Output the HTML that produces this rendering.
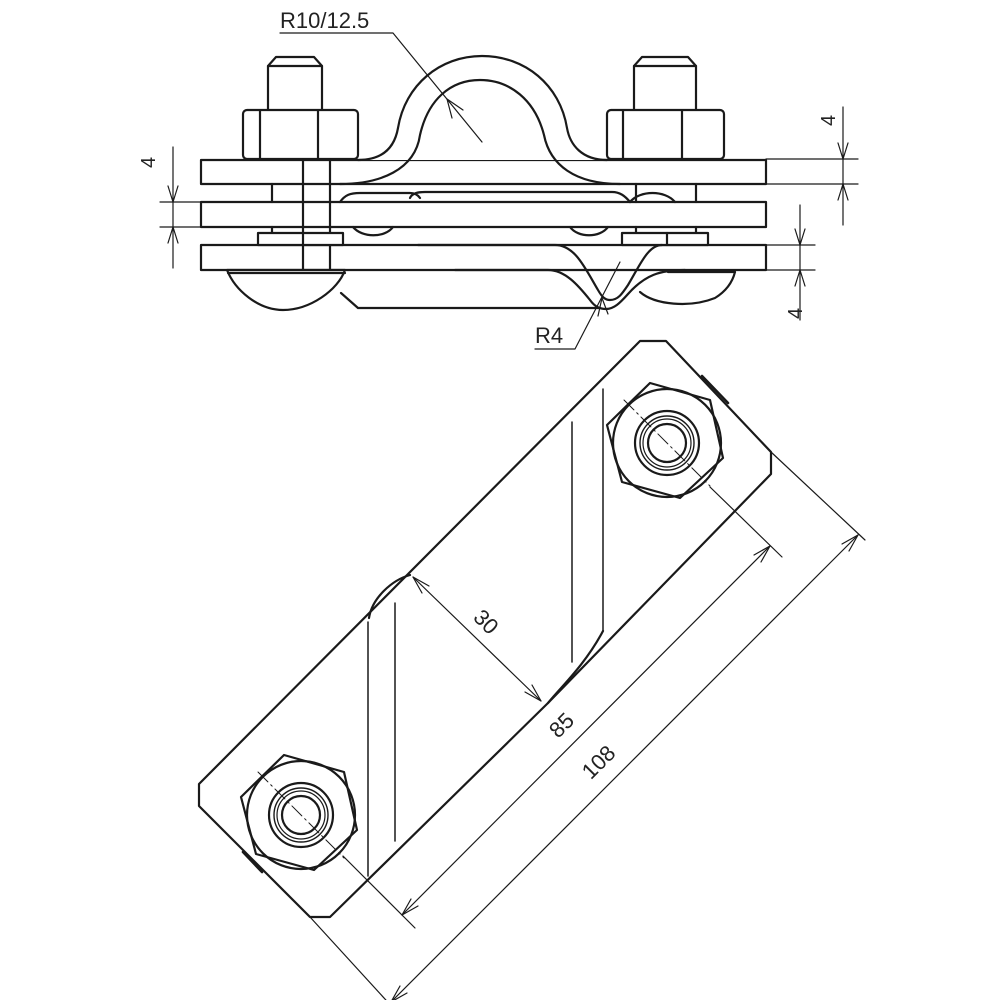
<!DOCTYPE html>
<html><head><meta charset="utf-8"><style>
html,body{margin:0;padding:0;background:#fff;}
svg{display:block;}
text{font-family:"Liberation Sans",sans-serif;fill:#222;}
</style></head><body>
<svg width="1000" height="1000" viewBox="0 0 1000 1000" xmlns="http://www.w3.org/2000/svg">
<g fill="none" stroke="#1a1a1a" stroke-width="2.2" stroke-linejoin="round" stroke-linecap="round">
<!-- ===== TOP VIEW ===== -->
<path d="M268,110 V66 L276,57 H314 L322,66 V110"/>
<line x1="268" y1="66" x2="322" y2="66"/>
<path d="M634,110 V66 L642,57 H688 L696,66 V110"/>
<line x1="634" y1="66" x2="696" y2="66"/>
<rect x="243" y="110" width="115" height="49" rx="4" fill="#fff"/>
<line x1="260" y1="111" x2="260" y2="158"/><line x1="318" y1="111" x2="318" y2="158"/>
<rect x="607" y="110" width="117" height="49" rx="4" fill="#fff"/>
<line x1="623" y1="111" x2="623" y2="158"/><line x1="682" y1="111" x2="682" y2="158"/>
<rect x="201" y="160" width="565" height="24" fill="#fff"/>
<rect x="201" y="202" width="565" height="25" fill="#fff"/>
<rect x="201" y="245" width="565" height="25" fill="#fff"/>
<path d="M358,160 C385,160 395,145 398,128 C405,85 440,56 482,56 C525,56 560,85 567,128 C570,145 582,160 607,160" fill="#fff"/>
<path d="M340,184 C380,184 415,170 420,135 C428,100 450,80 480,80 C510,80 535,100 544,135 C550,165 575,184 620,184"/>
<line x1="303" y1="160" x2="303" y2="270"/><line x1="330" y1="160" x2="330" y2="270"/>
<line x1="272" y1="184" x2="272" y2="202"/><line x1="272" y1="227" x2="272" y2="233"/>
<line x1="636" y1="184" x2="636" y2="202"/><line x1="696" y1="184" x2="696" y2="202"/>
<line x1="636" y1="227" x2="636" y2="233"/><line x1="696" y1="227" x2="696" y2="233"/>
<rect x="258" y="233" width="85" height="12" fill="#fff"/><line x1="303" y1="233" x2="303" y2="245"/>
<rect x="622" y="233" width="86" height="12" fill="#fff"/><line x1="667" y1="233" x2="667" y2="245"/>
<path d="M340,202 C345,195 350,193 360,193 H410 C415,193 418,195 420,198"/>
<path d="M410,198 C412,193 418,192 425,192 H612 C620,192 625,196 630,202"/>
<path d="M630,202 C640,190 665,190 675,202"/>
<path d="M353,227 C362,238 385,238 393,227"/>
<path d="M570,227 C578,238 600,238 608,227"/>
<path d="M418,245 H555 C575,245 585,268 598,290 C602,297 605,300 610,300 C618,300 622,294 628,285 C640,265 648,245 662,245"/>
<path d="M455,270 H548 C565,270 578,285 590,300 C595,307 600,309 606,309 C614,309 620,303 628,294 C645,275 660,270 685,270"/>
<path d="M341,293 L358,308 H600"/>
<path d="M227,270 H345 C338,290 310,310 283,310 C258,310 235,290 227,270 Z" fill="#fff"/>
<line x1="228" y1="273" x2="345" y2="273"/>
<path d="M640,292 C655,305 690,308 715,298 C728,290 733,280 735,272" fill="none"/>
<line x1="668" y1="272" x2="735" y2="272"/>
<g stroke-width="1.2">
<line x1="766" y1="159" x2="858" y2="159"/><line x1="766" y1="184" x2="858" y2="184"/>
<line x1="843" y1="107" x2="843" y2="225"/>
<path d="M838,143 L843,159 L848,143 M838,200 L843,184 L848,200"/>
<line x1="160" y1="202" x2="201" y2="202"/><line x1="160" y1="227" x2="201" y2="227"/>
<line x1="173" y1="147" x2="173" y2="268"/>
<path d="M168,186 L173,202 L178,186 M168,243 L173,227 L178,243"/>
<line x1="766" y1="245" x2="815" y2="245"/><line x1="766" y1="270" x2="815" y2="270"/>
<line x1="800" y1="205" x2="800" y2="320"/>
<path d="M795,229 L800,245 L805,229 M795,286 L800,270 L805,286"/>
<path d="M280,33 H393 L482,142"/>
<path d="M447,99 L452,118 M447,99 L463,110"/>
<path d="M535,349 H575 L620,262"/>
<path d="M602,298 L598,316 M602,298 L608,314"/>
</g>

<!-- ===== PLAN VIEW ===== -->
<path d="M640,341 H666 L771,452 V474 L548,703 L330,917 H310 L199,806 V784 Z" fill="#fff"/>
<path d="M369,618 C372,598 392,580 410,575"/>
<path d="M548,703 C560,688 585,665 603,631"/>
<line x1="702" y1="376" x2="728" y2="403" stroke-width="2.6"/>
<line x1="243" y1="852" x2="262" y2="872" stroke-width="2.6"/>
<g stroke-width="1.5">
<line x1="368" y1="622" x2="368" y2="876"/><line x1="395" y1="603" x2="395" y2="841"/>
<line x1="572" y1="422" x2="572" y2="662"/><line x1="603" y1="389" x2="603" y2="631"/>
</g>
<g id="nut">
<polygon points="650,383 710,400 723,458 680,498 622,482 607,425" fill="#fff"/>
<circle cx="667" cy="443" r="54"/>
<circle cx="667" cy="443" r="32"/>
<circle cx="667" cy="443" r="27" stroke-width="1.4"/>
<circle cx="667" cy="443" r="24" stroke-width="1.2"/>
<circle cx="667" cy="443" r="19"/>
<line x1="624" y1="400" x2="710" y2="486" stroke-width="1" stroke-dasharray="14,4,2,4"/>
</g>
<use href="#nut" transform="translate(-366,372)"/>
<g stroke-width="1.2">
<line x1="710" y1="487" x2="782" y2="557"/>
<line x1="343" y1="856" x2="415" y2="928"/>
<line x1="771" y1="452" x2="865" y2="540"/>
<line x1="310" y1="917" x2="395" y2="1010"/>
<line x1="402" y1="915" x2="770" y2="546"/>
<path d="M770,546 L754,555 M770,546 L761,562 M402,915 L411,899 M402,915 L418,906"/>
<line x1="391" y1="1002" x2="858" y2="535"/>
<path d="M858,535 L842,544 M858,535 L849,551 M391,1002 L400,986 M391,1002 L407,993"/>
<line x1="413" y1="577" x2="541" y2="701"/>
<path d="M413,577 L422,593 M413,577 L429,586 M541,701 L532,685 M541,701 L525,692"/>
</g>
</g>
<text x="280" y="28" font-size="22">R10/12.5</text>
<text x="535" y="343" font-size="22">R4</text>
<text x="147" y="160" font-size="20" transform="rotate(-90 155 160)">4</text>
<text x="820" y="125" font-size="20" transform="rotate(-90 828 118)">4</text>
<text x="787" y="318" font-size="20" transform="rotate(-90 795 311)">4</text>
<text x="474" y="630" font-size="22" transform="rotate(45 487 622)">30</text>
<text x="549" y="733" font-size="22" transform="rotate(-45 561 725)">85</text>
<text x="580" y="770" font-size="22" transform="rotate(-45 598 762)">108</text>
</svg>
</body></html>
